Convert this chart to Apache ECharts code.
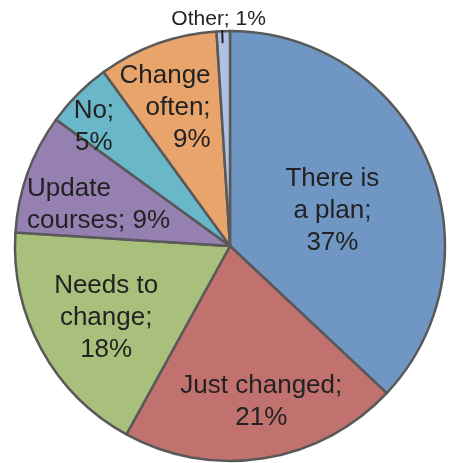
<!DOCTYPE html>
<html>
<head>
<meta charset="utf-8">
<script src="https://cdn.jsdelivr.net/npm/echarts@6/dist/echarts.min.js"></script>
<style>html,body{margin:0;padding:0;background:#fff}#c{width:449px;height:463px}</style>
</head>
<body>
<div id="c"></div>
<script>
var categories = ['There is\na plan', 'Just changed', 'Needs to\nchange', 'Update\ncourses', 'No', 'Change\noften', 'Other'];
var labelSep = [';\n', ';\n', ';\n', '; ', ';\n', ';\n', '; '];
var values = [37, 21, 18, 9, 5, 9, 1];
var colors = ['#7097C3', '#C1726F', '#A9C07C', '#9580B1', '#6BB7CA', '#E8A46A', '#B0C2E2'];
// label adjustments (style only): dx, dy, align
var labelAdjust = [
  {dx: 1, dy: 9, align: 'center'},
  {dx: 14, dy: 47, align: 'center'},
  {dx: -27, dy: 19, align: 'center'},
  {dx: -99, dy: -4, align: 'left'},
  {dx: -58, dy: -41, align: 'center'},
  {dx: 18, dy: -34, align: 'right'},
  {dx: 0, dy: -24, align: 'center'}
];

var CX = 230, CY = 246, R = 215;

var data = categories.map(function (c, i) {
  var d = {name: c, value: values[i], itemStyle: {color: colors[i]}};
  if (i === 6) {
    d.label = {position: 'outside', fontSize: 21, lineHeight: 24};
    d.labelLine = {show: true, length: -12, length2: 0, lineStyle: {color: '#222', width: 2}};
  }
  return d;
});

// leader tick for the last (small) slice, derived from its mid angle
var total = values.reduce(function (a, b) { return a + b; }, 0);
var cumBefore = total - values[values.length - 1];
var midFrac = (cumBefore + values[values.length - 1] / 2) / total;
var ang = midFrac * 2 * Math.PI;
function pt(r) { return [CX + r * Math.sin(ang), CY - r * Math.cos(ang)]; }
var p1 = pt(R + 1), p2 = pt(R - 12);

var chart = echarts.init(document.getElementById('c'), null, {renderer: 'canvas'});
chart.setOption({
  animation: false,
  series: [{
    type: 'pie',
    center: [CX, CY],
    radius: R,
    startAngle: 90,
    clockwise: true,
    avoidLabelOverlap: false,
    data: data,
    itemStyle: {borderColor: '#595959', borderWidth: 2.5},
    label: {
      show: true,
      position: 'inside',
      fontFamily: 'Liberation Sans, Arial, sans-serif',
      fontSize: 26,
      lineHeight: 32,
      color: '#222',
      formatter: function (p) { return p.name + labelSep[p.dataIndex] + p.value + '%'; }
    },
    labelLine: {show: false},
    labelLayout: function (p) {
      var a = labelAdjust[p.dataIndex];
      return {dx: a.dx, dy: a.dy, align: a.align};
    }
  }],
  graphic: [{
    type: 'line',
    z: 100,
    shape: {x1: p1[0] - 1, y1: p1[1], x2: p2[0] - 1, y2: p2[1]},
    style: {stroke: '#222', lineWidth: 2}
  }]
});
</script>
</body>
</html>
